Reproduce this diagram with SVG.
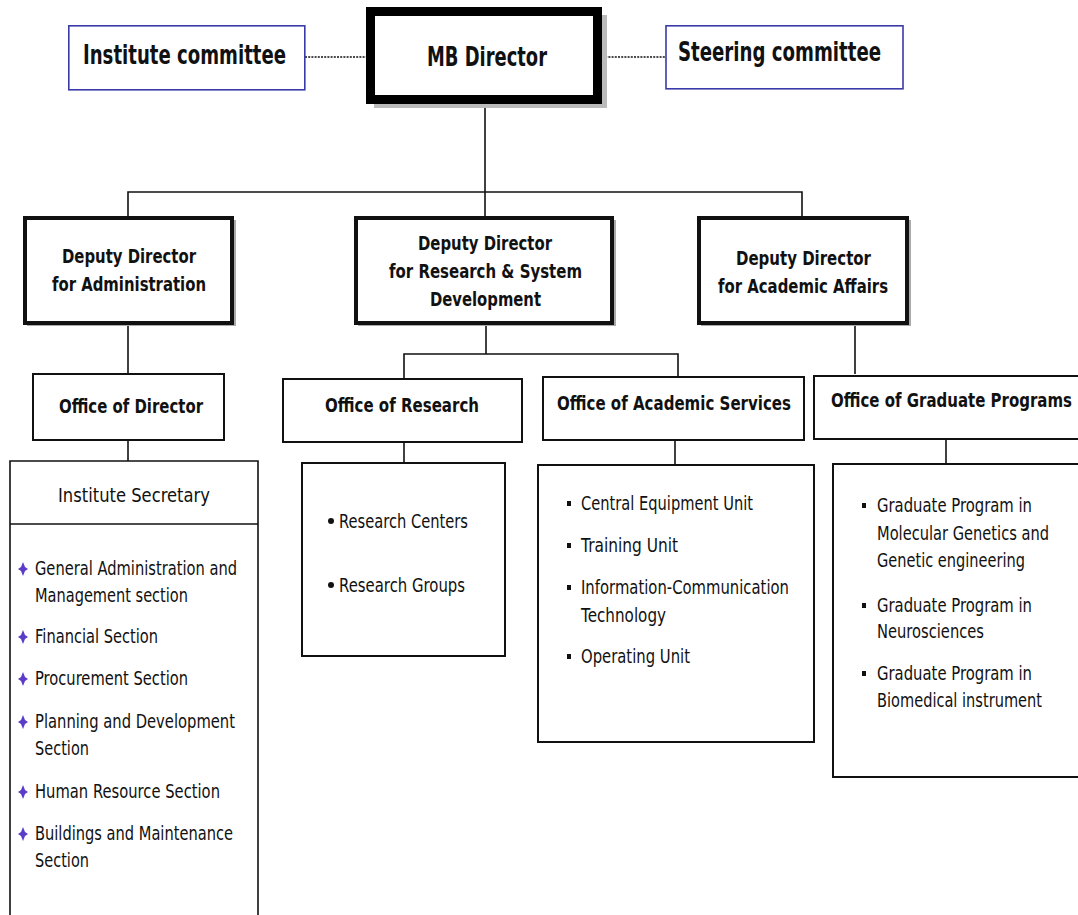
<svg xmlns="http://www.w3.org/2000/svg" width="1078" height="915" viewBox="0 0 1078 915">
<style>
.b{font-family:"DejaVu Sans",Verdana,sans-serif;font-weight:bold;fill:#111}
.r{font-family:"DejaVu Sans",Verdana,sans-serif;fill:#111;font-size:19.5px}
.h{font-size:19.5px}
.bx{fill:#fff;stroke:#111;stroke-width:2}
.dp{fill:#fff;stroke:#111;stroke-width:4}
.cm{fill:#fff;stroke:#3a3aa8;stroke-width:1.6}
.ln{stroke:#111;stroke-width:1.6;fill:none}
.dt{stroke:#111;stroke-width:1.6;stroke-dasharray:2 1.2;fill:none}
</style>
<defs>
<path id="star" d="M0,-7 L2,-2 L5,0 L2,2 L0,7 L-2,2 L-5,0 L-2,-2 Z" fill="#5a3cc8"/>
</defs>
<rect width="1078" height="915" fill="#fff"/>
<g id="connectors">
<line class="dt" x1="305" y1="57" x2="366" y2="57"/>
<line class="dt" x1="602" y1="57" x2="666" y2="57"/>
<line class="ln" x1="485" y1="104" x2="485" y2="217"/>
<polyline class="ln" points="128,217 128,192 802,192 802,217"/>
<line class="ln" x1="128" y1="325" x2="128" y2="373"/>
<line class="ln" x1="486" y1="325" x2="486" y2="354"/>
<polyline class="ln" points="404,379 404,354 678,354 678,377"/>
<line class="ln" x1="855" y1="325" x2="855" y2="374"/>
<line class="ln" x1="128" y1="440" x2="128" y2="461"/>
<line class="ln" x1="404" y1="442" x2="404" y2="463"/>
<line class="ln" x1="675" y1="440" x2="675" y2="465"/>
<line class="ln" x1="946" y1="439" x2="946" y2="464"/>
</g>
<g id="institute-committee">
<rect class="cm" x="68.8" y="25.8" width="236" height="64"/>
<text class="b" x="83" y="64" font-size="26" textLength="203" lengthAdjust="spacingAndGlyphs">Institute committee</text>
</g>
<g id="mb-director">
<rect x="374" y="15" width="233" height="93" fill="#bbb"/>
<rect x="370.5" y="11.5" width="227" height="88" fill="#fff" stroke="#000" stroke-width="9"/>
<text class="b" x="427" y="66" font-size="27" textLength="120" lengthAdjust="spacingAndGlyphs">MB Director</text>
</g>
<g id="steering-committee">
<rect class="cm" x="666" y="25.8" width="237" height="63"/>
<text class="b" x="678" y="61" font-size="26" textLength="203" lengthAdjust="spacingAndGlyphs">Steering committee</text>
</g>
<g id="dd-admin">
<rect x="27" y="220" width="209" height="106" fill="#aaa"/>
<rect class="dp" x="25" y="218" width="207" height="105"/>
<text class="b h" x="62" y="263" textLength="134" lengthAdjust="spacingAndGlyphs">Deputy Director</text>
<text class="b h" x="52" y="291" textLength="154" lengthAdjust="spacingAndGlyphs">for Administration</text>
</g>
<g id="dd-research">
<rect x="358" y="220" width="258" height="106" fill="#aaa"/>
<rect class="dp" x="356" y="218" width="256" height="105"/>
<text class="b h" x="418" y="250" textLength="134" lengthAdjust="spacingAndGlyphs">Deputy Director</text>
<text class="b h" x="389" y="278" textLength="193" lengthAdjust="spacingAndGlyphs">for Research &amp; System</text>
<text class="b h" x="430" y="306" textLength="111" lengthAdjust="spacingAndGlyphs">Development</text>
</g>
<g id="dd-academic">
<rect x="701" y="220" width="210" height="106" fill="#aaa"/>
<rect class="dp" x="699" y="218" width="208" height="105"/>
<text class="b h" x="736" y="265" textLength="135" lengthAdjust="spacingAndGlyphs">Deputy Director</text>
<text class="b h" x="718" y="293" textLength="170" lengthAdjust="spacingAndGlyphs">for Academic Affairs</text>
</g>
<g id="office-director">
<rect class="bx" x="33" y="374" width="191" height="66"/>
<text class="b h" x="59" y="413" textLength="144" lengthAdjust="spacingAndGlyphs">Office of Director</text>
</g>
<g id="office-research">
<rect class="bx" x="283" y="379" width="239" height="63"/>
<text class="b h" x="325" y="412" textLength="154" lengthAdjust="spacingAndGlyphs">Office of Research</text>
</g>
<g id="office-academic-services">
<rect class="bx" x="543" y="377" width="261" height="63"/>
<text class="b h" x="557" y="410" textLength="234" lengthAdjust="spacingAndGlyphs">Office of Academic Services</text>
</g>
<g id="office-graduate-programs">
<rect class="bx" x="814" y="376" width="270" height="63"/>
<text class="b h" x="831" y="407" textLength="241" lengthAdjust="spacingAndGlyphs">Office of Graduate Programs</text>
</g>
<g id="institute-secretary">
<path class="ln" d="M10,920 V461 H258 V920"/>
<line class="ln" x1="10" y1="524" x2="258" y2="524"/>
<text class="r" x="58" y="502" font-size="20" textLength="152" lengthAdjust="spacingAndGlyphs">Institute Secretary</text>
<use href="#star" x="23" y="569"/>
<text class="r" x="35" y="575" textLength="202" lengthAdjust="spacingAndGlyphs">General Administration and</text>
<text class="r" x="35" y="602" textLength="153" lengthAdjust="spacingAndGlyphs">Management section</text>
<use href="#star" x="23" y="637"/>
<text class="r" x="35" y="643" textLength="123" lengthAdjust="spacingAndGlyphs">Financial Section</text>
<use href="#star" x="23" y="679"/>
<text class="r" x="35" y="685" textLength="153" lengthAdjust="spacingAndGlyphs">Procurement Section</text>
<use href="#star" x="23" y="722"/>
<text class="r" x="35" y="728" textLength="200" lengthAdjust="spacingAndGlyphs">Planning and Development</text>
<text class="r" x="35" y="755" textLength="54" lengthAdjust="spacingAndGlyphs">Section</text>
<use href="#star" x="23" y="792"/>
<text class="r" x="35" y="798" textLength="185" lengthAdjust="spacingAndGlyphs">Human Resource Section</text>
<use href="#star" x="23" y="834"/>
<text class="r" x="35" y="840" textLength="198" lengthAdjust="spacingAndGlyphs">Buildings and Maintenance</text>
<text class="r" x="35" y="867" textLength="54" lengthAdjust="spacingAndGlyphs">Section</text>
</g>
<g id="research-units">
<rect class="bx" x="302" y="463" width="203" height="193"/>
<circle cx="331" cy="521" r="3" fill="#111"/>
<text class="r" x="339" y="528" textLength="129" lengthAdjust="spacingAndGlyphs">Research Centers</text>
<circle cx="331" cy="585" r="3" fill="#111"/>
<text class="r" x="339" y="592" textLength="126" lengthAdjust="spacingAndGlyphs">Research Groups</text>
</g>
<g id="academic-services-units">
<rect class="bx" x="538" y="465" width="276" height="277"/>
<rect x="567" y="501" width="4" height="5" fill="#111"/>
<text class="r" x="581" y="510" textLength="172" lengthAdjust="spacingAndGlyphs">Central Equipment Unit</text>
<rect x="567" y="543" width="4" height="5" fill="#111"/>
<text class="r" x="581" y="552" textLength="97" lengthAdjust="spacingAndGlyphs">Training Unit</text>
<rect x="567" y="585" width="4" height="5" fill="#111"/>
<text class="r" x="581" y="594" textLength="208" lengthAdjust="spacingAndGlyphs">Information-Communication</text>
<text class="r" x="581" y="622" textLength="85" lengthAdjust="spacingAndGlyphs">Technology</text>
<rect x="567" y="654" width="4" height="5" fill="#111"/>
<text class="r" x="581" y="663" textLength="109" lengthAdjust="spacingAndGlyphs">Operating Unit</text>
</g>
<g id="graduate-programs-units">
<rect class="bx" x="833" y="464" width="260" height="313"/>
<rect x="862" y="503" width="4" height="5" fill="#111"/>
<text class="r" x="877" y="512" textLength="155" lengthAdjust="spacingAndGlyphs">Graduate Program in</text>
<text class="r" x="877" y="540" textLength="172" lengthAdjust="spacingAndGlyphs">Molecular Genetics and</text>
<text class="r" x="877" y="567" textLength="148" lengthAdjust="spacingAndGlyphs">Genetic engineering</text>
<rect x="862" y="603" width="4" height="5" fill="#111"/>
<text class="r" x="877" y="612" textLength="155" lengthAdjust="spacingAndGlyphs">Graduate Program in</text>
<text class="r" x="877" y="638" textLength="107" lengthAdjust="spacingAndGlyphs">Neurosciences</text>
<rect x="862" y="671" width="4" height="5" fill="#111"/>
<text class="r" x="877" y="680" textLength="155" lengthAdjust="spacingAndGlyphs">Graduate Program in</text>
<text class="r" x="877" y="707" textLength="165" lengthAdjust="spacingAndGlyphs">Biomedical instrument</text>
</g>
</svg>
